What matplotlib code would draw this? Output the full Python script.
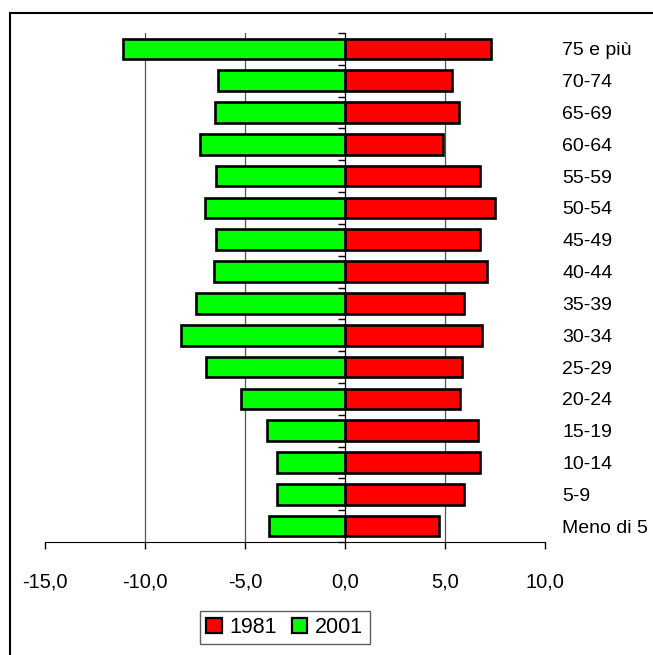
import matplotlib
matplotlib.use('Agg')
import matplotlib.pyplot as plt
from matplotlib.lines import Line2D
from matplotlib.patches import Patch
import numpy as np

plt.rcParams['font.family'] = ['Liberation Sans', 'DejaVu Sans']

# Data: age classes (bottom to top) and percentages
classes = ["Meno di 5", "5-9", "10-14", "15-19", "20-24", "25-29", "30-34", "35-39",
           "40-44", "45-49", "50-54", "55-59", "60-64", "65-69", "70-74", "75 e più"]
v1981 = [4.7, 5.95, 6.75, 6.65, 5.75, 5.85, 6.85, 5.95, 7.1, 6.75, 7.5, 6.75, 4.9, 5.7, 5.35, 7.3]
v2001 = [-3.8, -3.4, -3.4, -3.9, -5.2, -6.95, -8.2, -7.45, -6.55, -6.45, -7.0, -6.45, -7.25, -6.5, -6.35, -11.1]
xticks = [-15, -10, -5, 0, 5, 10]
xticklabels = ["-15,0", "-10,0", "-5,0", "0,0", "5,0", "10,0"]

fig = plt.figure(figsize=(6.53, 6.55), dpi=100)
ax = fig.add_axes([45 / 653, 1 - 542 / 655, 500 / 653, 509 / 655])

pos = np.arange(len(classes))
ax.barh(pos, v2001, height=0.65, color='#00FF00', edgecolor='black', linewidth=1.9, zorder=3)
ax.barh(pos, v1981, height=0.65, color='#FF0000', edgecolor='black', linewidth=1.9, zorder=3)

ax.set_xlim(-15, 10)
ax.set_ylim(-0.5, len(classes) - 0.5)

# x axis
ax.set_xticks(xticks)
ax.set_xticklabels(xticklabels, fontsize=14.5)
ax.tick_params(axis='x', direction='out', length=5, width=1, pad=17)
ax.grid(axis='x', color='#555555', linewidth=0.9, zorder=0)
gl = ax.get_xgridlines()
gl[0].set_visible(False)
gl[-1].set_visible(False)

# y axis at zero with ticks at class boundaries
ax.spines['left'].set_position(('data', 0))
ax.spines['left'].set_zorder(4)
ax.spines['top'].set_visible(False)
ax.spines['right'].set_visible(False)
ax.set_yticks(np.arange(len(classes) + 1) - 0.5)
ax.set_yticklabels([])
ax.tick_params(axis='y', direction='out', length=5, width=1)

# class labels on the right
sec = ax.secondary_yaxis('right')
sec.set_yticks(pos)
sec.set_yticklabels(classes, fontsize=14)
sec.tick_params(length=0, pad=12.5)
sec.spines['right'].set_visible(False)

# legend
handles = [Patch(facecolor='#FF0000', edgecolor='black', linewidth=1.6, label='1981'),
           Patch(facecolor='#00FF00', edgecolor='black', linewidth=1.6, label='2001')]
leg = fig.legend(handles=handles, loc='center', bbox_to_anchor=(284.7 / 653, 1 - 627.5 / 655),
                 ncol=2, fontsize=15.5, frameon=True, fancybox=False, handlelength=0.72,
                 handleheight=0.72, handletextpad=0.35, columnspacing=0.7, borderpad=0.3,
                 borderaxespad=0)
leg.get_frame().set_edgecolor('#333333')
leg.get_frame().set_linewidth(1.0)

# outer border (top and left visible)
fig.add_artist(Line2D([10 / 653, 1], [1 - 13 / 655, 1 - 13 / 655], transform=fig.transFigure,
                      color='black', linewidth=1.5))
fig.add_artist(Line2D([10 / 653, 10 / 653], [0, 1 - 13 / 655], transform=fig.transFigure,
                      color='black', linewidth=1.5))

fig.savefig('out.png', dpi=100)
